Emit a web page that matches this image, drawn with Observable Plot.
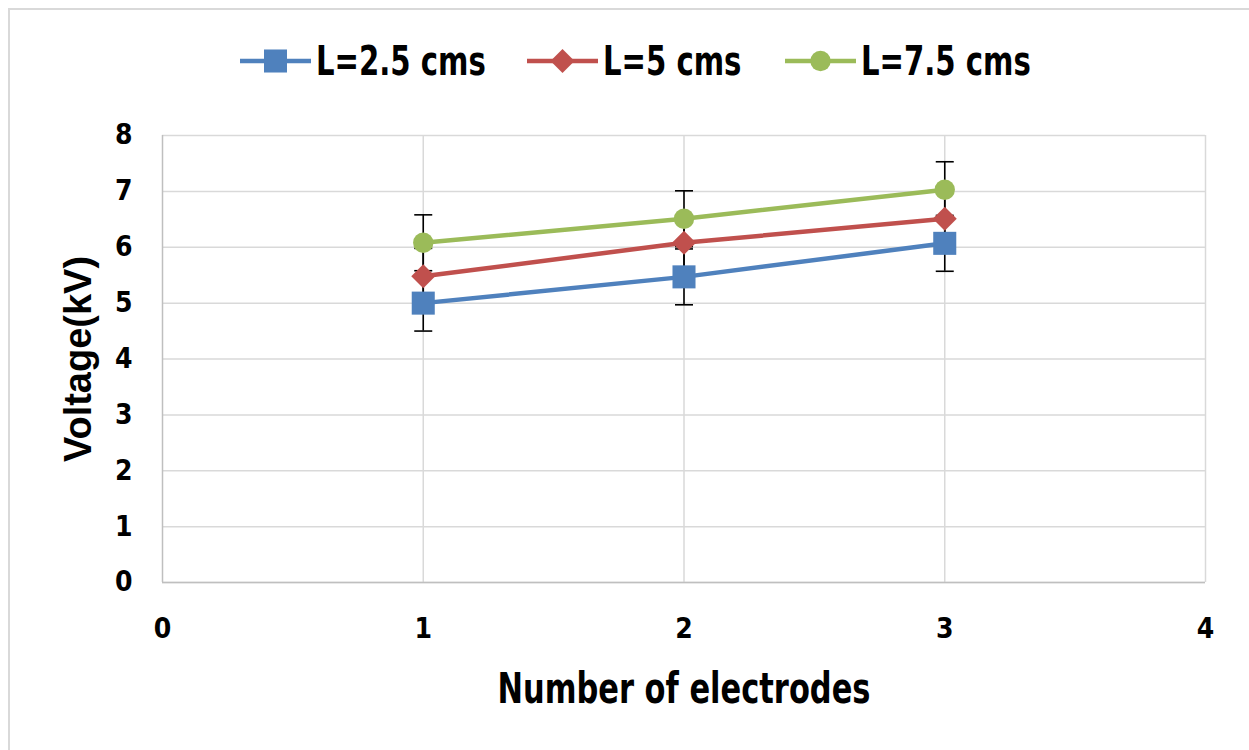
<!DOCTYPE html>
<html>
<head>
<meta charset="utf-8">
<script src="https://cdn.jsdelivr.net/npm/d3@7"></script>
<script src="https://cdn.jsdelivr.net/npm/@observablehq/plot@0.6"></script>
<style>
  body { margin: 0; background: #fff; }
  #wrap { position: relative; width: 1249px; height: 750px; overflow: hidden; background: #fff; }
  #border { position: absolute; left: 8px; top: 8px; width: 1300px; height: 800px; border: 2px solid #d9d9d9; box-sizing: border-box; pointer-events: none; }
  #legend { position: relative; height: 100px; }
  .item { position: absolute; top: 38px; display: flex; align-items: center; font-family: "DejaVu Sans Condensed", "DejaVu Sans", sans-serif; font-weight: bold; font-size: 40px; color: #000; white-space: nowrap; }
  .item svg { margin-right: 5px; }
  .item span { display: inline-block; transform: scaleX(0.81); transform-origin: left center; }
  #chart { position: relative; }
</style>
</head>
<body>
<div id="wrap">
  <div id="border"></div>
  <div id="legend"></div>
  <div id="chart"></div>
</div>
<script>
// ---- data ----
const electrodes = [1, 2, 3];
const seriesNames = ["L=2.5 cms", "L=5 cms", "L=7.5 cms"];
const voltL25 = [5.0, 5.47, 6.07];
const voltL5 = [5.48, 6.08, 6.51];
const voltL75 = [6.08, 6.51, 7.03];
const errL25 = [0.5, 0.5, 0.5];
const errL5 = [0.5, 0.5, 0.5];
const errL75 = [0.5, 0.5, 0.5];
const xTicks = [0, 1, 2, 3, 4];
const yTicks = [0, 1, 2, 3, 4, 5, 6, 7, 8];
const colors = ["#4F81BD", "#C0504D", "#9BBB59"];
const symbols = ["square", "diamond2", "circle"];
const markerR = [13, 10.8, 10.2];

const values = [voltL25, voltL5, voltL75];
const errs = [errL25, errL5, errL75];
const rows = [];
seriesNames.forEach((s, i) => electrodes.forEach((x, j) => rows.push({series: s, x, y: values[i][j], e: errs[i][j]})));

// custom horizontal cap symbol
const capSymbol = {
  draw(ctx, size) {
    const r = Math.sqrt(size / Math.PI);
    ctx.moveTo(-r, 0); ctx.lineTo(r, 0);
  }
};

const tickFont = '"DejaVu Sans Condensed", "DejaVu Sans", sans-serif';

const marks = [
  Plot.gridY(yTicks, {stroke: "#d9d9d9", strokeOpacity: 1, strokeWidth: 1.5}),
  Plot.gridX([1, 2, 3, 4], {stroke: "#d9d9d9", strokeOpacity: 1, strokeWidth: 1.5}),
  Plot.ruleX([0], {stroke: "#bfbfbf", strokeWidth: 1.5}),
  Plot.ruleY([0], {stroke: "#bfbfbf", strokeWidth: 1.5}),
  Plot.axisX({ticks: xTicks, tickSize: 0, tickPadding: 36, tickFormat: d3.format("d"), fontSize: 28, fontWeight: "bold", fontFamily: tickFont, label: null}),
  Plot.axisY({ticks: yTicks, tickSize: 0, tickPadding: 30, tickFormat: d3.format("d"), fontSize: 28, fontWeight: "bold", fontFamily: tickFont, label: null}),
  Plot.axisX({ticks: [], label: "Number of electrodes", labelAnchor: "center", labelArrow: "none", labelOffset: 120, fontSize: 42, fontWeight: "bold", fontFamily: tickFont, className: "xtitle"}),
  Plot.axisY({ticks: [], label: "Voltage(kV)", labelAnchor: "center", labelArrow: "none", labelOffset: 98, fontSize: 38, fontWeight: "bold", fontFamily: '"Liberation Sans", Arial, sans-serif'}),
  Plot.ruleX(rows, {x: "x", y1: d => d.y - d.e, y2: d => d.y + d.e, stroke: "#000", strokeWidth: 1.6}),
  Plot.dot(rows, {x: "x", y: d => d.y - d.e, symbol: capSymbol, r: 9, stroke: "#000", strokeWidth: 1.6, fill: "none"}),
  Plot.dot(rows, {x: "x", y: d => d.y + d.e, symbol: capSymbol, r: 9, stroke: "#000", strokeWidth: 1.6, fill: "none"})
];
seriesNames.forEach((s, i) => {
  const d = rows.filter(r => r.series === s);
  marks.push(Plot.line(d, {x: "x", y: "y", stroke: colors[i], strokeWidth: 4.5}));
});
seriesNames.forEach((s, i) => {
  const d = rows.filter(r => r.series === s);
  marks.push(Plot.dot(d, {x: "x", y: "y", symbol: symbols[i], r: markerR[i], fill: colors[i], stroke: "none"}));
});

const chart = Plot.plot({
  width: 1249,
  height: 650,
  marginLeft: 162,
  marginRight: 44,
  marginTop: 35,
  marginBottom: 168,
  x: {domain: [0, 4]},
  y: {domain: [0, 8]},
  style: {background: "transparent", color: "#000", overflow: "visible"},
  marks
});
document.getElementById("chart").appendChild(chart);
// condense the x-axis title to the reference's narrow face
d3.select(chart).selectAll("text").filter(function() { return this.textContent === "Number of electrodes"; })
  .attr("textLength", 373).attr("lengthAdjust", "spacingAndGlyphs");

// ---- legend ----
const legendLeft = [240, 527, 785];
const legend = document.getElementById("legend");
seriesNames.forEach((s, i) => {
  const item = document.createElement("div");
  item.className = "item";
  item.style.left = legendLeft[i] + "px";
  const svg = d3.create("svg").attr("width", 71).attr("height", 34);
  svg.append("line").attr("x1", 0).attr("x2", 71).attr("y1", 17).attr("y2", 17).attr("stroke", colors[i]).attr("stroke-width", 4.5);
  const sym = {square: d3.symbolSquare, diamond2: d3.symbolDiamond2, circle: d3.symbolCircle}[symbols[i]];
  svg.append("path").attr("transform", "translate(35.5,17)").attr("d", d3.symbol(sym, markerR[i] * markerR[i] * Math.PI)()).attr("fill", colors[i]);
  item.appendChild(svg.node());
  const t = document.createElement("span");
  t.textContent = s;
  item.appendChild(t);
  legend.appendChild(item);
});
</script>
</body>
</html>
